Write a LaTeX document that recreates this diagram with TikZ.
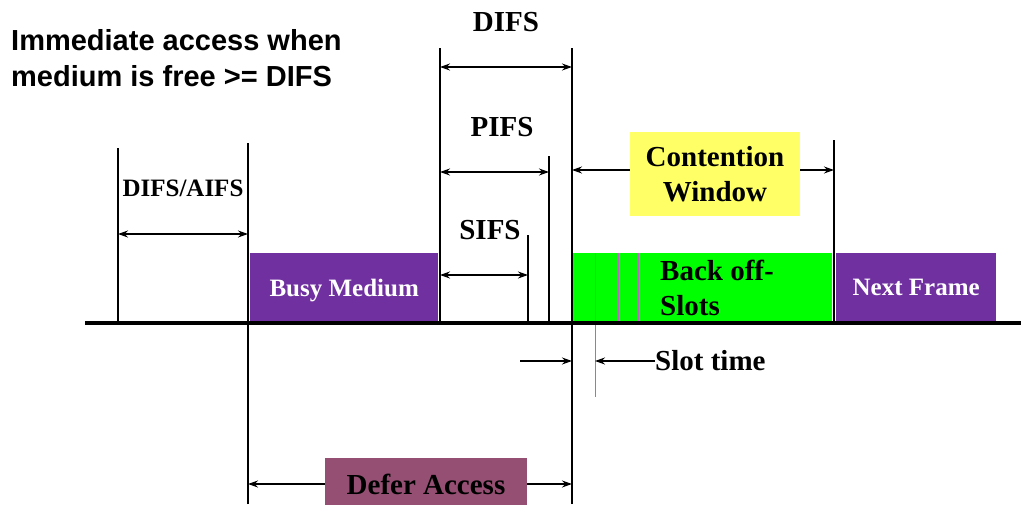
\documentclass[tikz,border=0pt]{standalone}
\usepackage{fontspec}
\setmainfont{Liberation Serif}
\newfontfamily\headfont{Liberation Sans}
\usetikzlibrary{arrows.meta}

\definecolor{busypurple}{HTML}{7030A0}
\definecolor{slotgreen}{HTML}{00FF00}
\definecolor{cwyellow}{HTML}{FFFF66}
\definecolor{deferpink}{HTML}{954F72}
\definecolor{slotline}{HTML}{C060C8}

\begin{document}
\begin{tikzpicture}[x=1pt,y=1pt,
  >={Stealth[length=10pt,width=7pt,inset=3.5pt]},
  bar/.style={line width=1.2pt},
  ifs/.style={<->,line width=1.2pt},
  lbl/.style={font=\bfseries\fontsize{29}{35}\selectfont,inner sep=0pt},
  lblsmall/.style={font=\bfseries\fontsize{25}{30}\selectfont,inner sep=0pt},
  medium/.style={fill=busypurple,text=white,lblsmall,text depth=0pt,minimum height=70pt,anchor=south west}]
  \useasboundingbox (0,-181) rectangle (1021,323);

  % time marks on the medium line
  \coordinate (tA) at (118,0);
  \coordinate (tB) at (248,0);
  \coordinate (tC) at (440,0);
  \coordinate (tD) at (528,0);
  \coordinate (tE) at (549,0);
  \coordinate (tF) at (572,0);
  \coordinate (tG) at (834,0);
  \coordinate (slot) at (595,0);

  % frames
  \node[medium,minimum width=188pt] (busy) at (250,0) {Busy Medium};
  \node[medium,minimum width=160pt] (next) at (836,0) {Next Frame};
  \node[fill=slotgreen,minimum width=260pt,minimum height=69pt,anchor=south west] (backoff) at (572,1) {};
  \node[lbl,align=left,anchor=west] (backlbl) at (660,35) {Back off-\\Slots};
  \foreach \sx in {618,638}
    \draw[slotline,line width=1pt] (\sx,1) -- (\sx,70);
  \draw[slotline,line width=1pt] (slot) ++(0,70) -- ++(0,-144) coordinate (slotend);

  % vertical marks
  \draw[bar] (tA) -- ++(0,175);
  \draw[bar] ([yshift=-181pt]tB) -- ++(0,361);
  \draw[bar] (tC) -- ++(0,275);
  \draw[bar] (tD) -- ++(0,88);
  \draw[bar] (tE) -- ++(0,167);
  \draw[bar] ([yshift=-181pt]tF) -- ++(0,456);
  \draw[bar] (tG) -- ++(0,183);

  % interframe spaces
  \draw[ifs] ([yshift=89pt]tA) -- ([yshift=89pt]tB);
  \node[lblsmall] (aifs) at (183,135) {DIFS/AIFS};
  \draw[ifs] ([yshift=256pt]tC) -- ([yshift=256pt]tF);
  \node[lbl] (difs) at (506,301) {DIFS};
  \draw[ifs] ([yshift=151pt]tC) -- ([yshift=151pt]tE);
  \node[lbl] (pifs) at (502,196) {PIFS};
  \draw[ifs] ([yshift=48pt]tC) -- ([yshift=48pt]tD);
  \node[lbl] (sifs) at (490,93) {SIFS};

  % contention window
  \node[fill=cwyellow,lbl,align=center,minimum width=170pt,minimum height=84pt] (cw) at (715,149) {Contention\\Window};
  \draw[->,line width=1.2pt] (cw.west |- 0,153) -- ([yshift=153pt]tF);
  \draw[->,line width=1.2pt] (cw.east |- 0,153) -- ([yshift=153pt]tG);

  % slot time
  \coordinate (slotin) at (520,-38);
  \node[lbl,anchor=west] (slotlbl) at (655,-38) {Slot time};
  \draw[->,line width=1.2pt] (slotin) -- (slotin -| tF);
  \draw[->,line width=1.2pt] (slotlbl.west) -- (slotlbl.west -| slot);

  % defer access
  \node[fill=deferpink,lbl,minimum width=202pt,minimum height=52pt] (defer) at (426,-161) {Defer Access};
  \draw[->,line width=1.2pt] (defer.west) -- (defer.west -| tB);
  \draw[->,line width=1.2pt] (defer.east) -- (defer.east -| tF);

  % medium line
  \draw[line width=4pt] (85,0) -- (1021,0);

  \node[font=\headfont\bfseries\fontsize{29}{36}\selectfont,align=left,anchor=west,inner sep=0pt] (rule) at (11,265)
    {Immediate access when\\medium is free >= DIFS};
\end{tikzpicture}
\end{document}
